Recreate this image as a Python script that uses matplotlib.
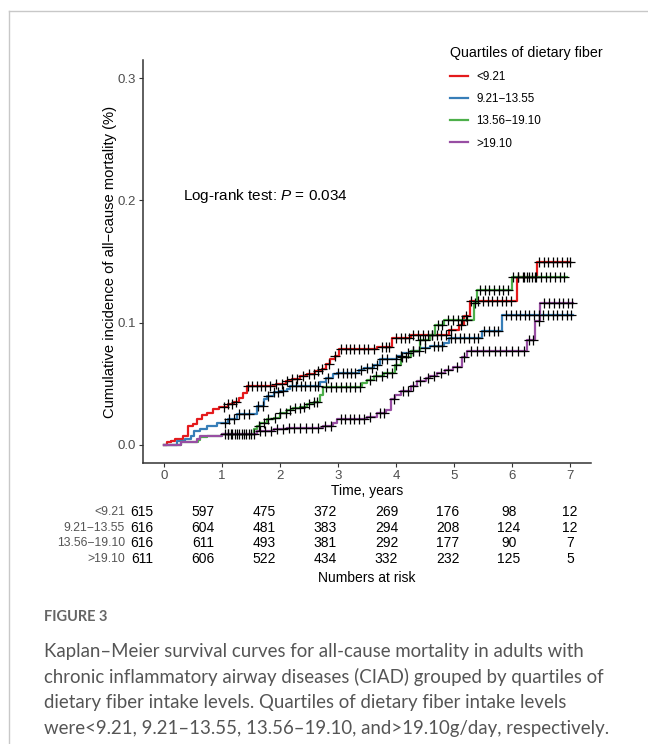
import matplotlib
matplotlib.use("Agg")
import numpy as np
import matplotlib.pyplot as plt
from matplotlib.lines import Line2D
from matplotlib.transforms import blended_transform_factory

plt.rcParams['font.family'] = ['Liberation Sans', 'DejaVu Sans']
plt.rcParams['mathtext.fontset'] = 'custom'
plt.rcParams['mathtext.rm'] = 'Liberation Sans'
plt.rcParams['mathtext.it'] = 'Liberation Sans:italic'

groups = ['<9.21', '9.21\u221213.55', '13.56\u221219.10', '>19.10']
colors = ['#E41A1C', '#377EB8', '#4DAF4A', '#984EA3']

# step times and cumulative incidence per group
red_t = [0, 0.06, 0.12, 0.2, 0.33, 0.41, 0.5, 0.57, 0.66, 0.75, 0.85, 0.95, 1.1, 1.2, 1.3, 1.37,
         1.43, 1.93, 2.1, 2.2, 2.35, 2.47, 2.6, 2.72, 2.8, 2.87, 2.95, 3.02, 3.68, 3.93, 4.25,
         4.91, 5.08, 5.17, 5.28, 6.08, 6.43]
red_y = [0, 0.002, 0.003, 0.005, 0.007, 0.015, 0.017, 0.021, 0.024, 0.026, 0.029, 0.031, 0.033,
         0.035, 0.038, 0.042, 0.048, 0.050, 0.052, 0.054, 0.056, 0.058, 0.060, 0.062, 0.066,
         0.070, 0.073, 0.078, 0.080, 0.087, 0.090, 0.094, 0.098, 0.105, 0.1175, 0.137, 0.150]
red_end = 7.0

blue_t = [0, 0.23, 0.37, 0.46, 0.52, 0.63, 0.74, 0.92, 1.1, 1.26, 1.6, 1.72, 1.77, 1.89, 2.0,
          2.12, 2.17, 2.69, 2.8, 2.92, 2.99, 3.36, 3.45, 3.62, 3.73, 4.02, 4.11, 4.25, 4.42,
          4.59, 4.82, 4.91, 5.48, 5.83]
blue_y = [0, 0.0027, 0.0046, 0.0074, 0.0114, 0.0128, 0.0155, 0.018, 0.021, 0.025, 0.032, 0.037,
          0.040, 0.043, 0.044, 0.046, 0.048, 0.051, 0.055, 0.058, 0.059, 0.0615, 0.063, 0.0656,
          0.070, 0.073, 0.075, 0.0765, 0.079, 0.0806, 0.083, 0.0874, 0.093, 0.106]
blue_end = 7.05

green_t = [0, 0.3, 0.58, 0.63, 0.74, 1.0, 1.55, 1.6, 1.66, 1.77, 1.89, 2.0, 2.12, 2.23, 2.35,
           2.46, 2.58, 2.69, 2.75, 3.42, 3.5, 3.62, 3.79, 3.99, 4.08, 4.25, 4.42, 4.59, 4.68,
           4.82, 5.34, 5.4, 6.0]
green_y = [0, 0.002, 0.004, 0.006, 0.0074, 0.0087, 0.0128, 0.0155, 0.018, 0.021, 0.022, 0.026,
           0.028, 0.030, 0.031, 0.033, 0.035, 0.041, 0.047, 0.0505, 0.053, 0.056, 0.059, 0.0656,
           0.072, 0.0765, 0.086, 0.090, 0.098, 0.102, 0.116, 0.127, 0.137]
green_end = 6.94

purple_t = [0, 0.29, 0.57, 0.63, 1.0, 1.6, 1.89, 2.12, 2.75, 2.92, 2.98, 3.5, 3.68, 3.82, 3.91,
            3.99, 4.08, 4.25, 4.36, 4.51, 4.59, 4.71, 4.85, 4.99, 5.14, 5.22, 6.25, 6.4, 6.48]
purple_y = [0, 0.002, 0.0046, 0.0074, 0.0087, 0.0114, 0.0128, 0.014, 0.0155, 0.018, 0.021, 0.023,
            0.026, 0.0287, 0.037, 0.041, 0.0437, 0.048, 0.052, 0.0546, 0.0566, 0.0587, 0.061,
            0.064, 0.072, 0.0765, 0.086, 0.101, 0.116]
purple_end = 7.05

# censoring times
red_cens = [1.03, 1.1, 1.18, 1.24, 1.45, 1.52, 1.6, 1.67, 1.74, 1.82, 1.93, 2.03, 2.12, 2.2, 2.3,
            2.4, 2.5, 2.58, 2.66, 2.73, 2.85, 2.95, 3.05, 3.13, 3.2, 3.28, 3.36, 3.44, 3.52, 3.62,
            3.75, 3.82, 3.88, 4.0, 4.08, 4.15, 4.22, 4.3, 4.38, 4.46, 4.55, 4.62, 4.7, 4.78, 4.86,
            4.95, 5.12, 5.2, 5.3, 5.42, 5.5, 5.58, 5.66, 5.74, 5.82, 5.9, 5.98, 6.1, 6.2, 6.3,
            6.4, 6.47, 6.55, 6.62, 6.7, 6.78, 6.86, 6.94, 7.0]
blue_cens = [1.05, 1.12, 1.2, 1.3, 1.38, 1.46, 1.62, 1.7, 1.8, 1.9, 1.97, 2.05, 2.2, 2.28, 2.36,
             2.44, 2.52, 2.6, 2.66, 2.83, 3.0, 3.08, 3.15, 3.22, 3.3, 3.4, 3.5, 3.58, 3.68, 3.76,
             3.84, 4.0, 4.08, 4.2, 4.3, 4.4, 4.5, 4.65, 4.72, 4.8, 4.95, 5.02, 5.1, 5.18, 5.26,
             5.34, 5.42, 5.52, 5.6, 5.68, 5.76, 5.9, 5.98, 6.06, 6.14, 6.22, 6.3, 6.38, 6.46,
             6.54, 6.62, 6.7, 6.78, 6.86, 6.94, 7.02]
green_cens = [1.1, 1.18, 1.26, 1.34, 1.42, 1.5, 1.64, 1.72, 1.8, 1.92, 2.0, 2.1, 2.18, 2.26, 2.34,
              2.42, 2.5, 2.58, 2.64, 2.8, 2.88, 2.96, 3.05, 3.13, 3.21, 3.3, 3.38, 3.55, 3.65,
              3.75, 3.85, 3.93, 4.0, 4.1, 4.18, 4.3, 4.42, 4.5, 4.62, 4.72, 4.8, 4.9, 4.98, 5.06,
              5.14, 5.22, 5.36, 5.45, 5.53, 5.61, 5.69, 5.77, 5.85, 5.93, 6.02, 6.1, 6.18, 6.26,
              6.34, 6.42, 6.5, 6.58, 6.66, 6.74, 6.82, 6.9]
purple_cens = [1.05, 1.1, 1.16, 1.22, 1.3, 1.38, 1.46, 1.55, 1.65, 1.75, 1.85, 1.95, 2.05, 2.15,
               2.25, 2.35, 2.45, 2.55, 2.65, 2.78, 2.88, 3.05, 3.12, 3.2, 3.28, 3.36, 3.44, 3.55,
               3.72, 3.8, 3.96, 4.12, 4.2, 4.3, 4.42, 4.55, 4.65, 4.78, 4.9, 5.05, 5.18, 5.3, 5.4,
               5.5, 5.6, 5.7, 5.8, 5.9, 6.0, 6.1, 6.2, 6.3, 6.36, 6.46, 6.55, 6.63, 6.72, 6.8,
               6.88, 6.96, 7.04]

risk_times = [0, 1, 2, 3, 4, 5, 6, 7]
risk_red = [615, 597, 475, 372, 269, 176, 98, 12]
risk_blue = [616, 604, 481, 383, 294, 208, 124, 12]
risk_green = [616, 611, 493, 381, 292, 177, 90, 7]
risk_purple = [611, 606, 522, 434, 332, 232, 125, 5]

curves = [(red_t, red_y, red_end, red_cens), (blue_t, blue_y, blue_end, blue_cens),
          (green_t, green_y, green_end, green_cens), (purple_t, purple_y, purple_end, purple_cens)]
risk = [risk_red, risk_blue, risk_green, risk_purple]

W, H = 648, 744
fig = plt.figure(figsize=(W / 100, H / 100), dpi=100)

def fx(px):
    return px / W

def fy(py):
    return 1 - py / H

ax = fig.add_axes([fx(143), fy(463), fx(591) - fx(143), fy(60) - fy(463)])

handles = []
for (t, y, end, cens), col, lab in zip(curves, colors, groups):
    tt = np.append(t, end)
    yy = np.append(y, y[-1])
    ax.step(tt, yy, where='post', color=col, lw=1.6, zorder=2)
    idx = np.searchsorted(t, cens, side='right') - 1
    cy = np.array(y)[idx]
    ax.plot(cens, cy, ls='none', marker='+', color='black', ms=6.5, mew=0.9, zorder=3)
    handles.append(Line2D([0], [0], color=col, lw=1.6))

ax.set_xlim(-0.36, 7.36)
ax.set_ylim(-0.015, 0.315)
ax.set_xticks(range(8))
ax.set_yticks([0.0, 0.1, 0.2, 0.3])
ax.set_yticklabels(['0.0', '0.1', '0.2', '0.3'])
for s in ['top', 'right']:
    ax.spines[s].set_visible(False)
for s in ['left', 'bottom']:
    ax.spines[s].set_color('#333333')
    ax.spines[s].set_linewidth(1.1)
ax.tick_params(colors='#333333', labelcolor='#4d4d4d', labelsize=9.5, length=3, width=0.8,
               pad=2)
ax.set_xlabel('Time, years', fontsize=10)
ax.set_ylabel('Cumulative incidence of all\u2212cause mortality (%)', fontsize=10.6)
ax.xaxis.set_label_coords((367 - 143) / 448, -(484 - 463) / 403)
ax.yaxis.set_label_coords((117 - 143) / 448, 0.5)

ax.text(fx(183), fy(196), 'Log-rank test: $P$ = 0.034', transform=fig.transFigure,
        fontsize=11, va='center', ha='left')

leg = fig.legend(handles, groups, loc='upper left', bbox_to_anchor=(fx(450), fy(46)),
                 frameon=False, title='Quartiles of dietary fiber', fontsize=8.4,
                 title_fontsize=10.3, alignment='left', handlelength=1.5, handletextpad=0.75,
                 labelspacing=0.87, borderpad=0, borderaxespad=0)
leg._legend_box.sep = 8

# numbers at risk table
rx0, rx1 = 142, 570
ppy = (rx1 - rx0) / 7
ax2 = fig.add_axes([fx(rx0 - 0.35 * ppy), fy(567), fx(7.7 * ppy), fy(504) - fy(567)])
ax2.set_xlim(-0.35, 7.35)
ax2.set_ylim(3.5, -0.5)
ax2.axis('off')
tr = blended_transform_factory(fig.transFigure, ax2.transData)
for i, (lab, row) in enumerate(zip(groups, risk)):
    ax2.text(fx(125), i, lab, transform=tr, ha='right', va='center', fontsize=8.8,
             color='#555555')
    for tm, n in zip(risk_times, row):
        ax2.text(tm, i, str(n), ha='center', va='center', fontsize=10)
fig.text(fx(367), fy(578), 'Numbers at risk', ha='center', va='center', fontsize=10)

# frame and caption
fig.add_artist(Line2D([fx(9), 1], [fy(11), fy(11)], color='#c8c8c8', lw=1,
                      transform=fig.transFigure))
fig.add_artist(Line2D([fx(9), fx(9)], [fy(11), 0], color='#c8c8c8', lw=1,
                      transform=fig.transFigure))
fig.text(fx(44), fy(617), 'FIGURE 3', fontsize=10.5, color='#666666', fontweight='bold',
         family='Lato', va='center', ha='left')
caption = ['Kaplan\u2013Meier survival curves for all-cause mortality in adults with',
           'chronic inflammatory airway diseases (CIAD) grouped by quartiles of',
           'dietary fiber intake levels. Quartiles of dietary fiber intake levels',
           'were<9.21, 9.21\u201313.55, 13.56\u201319.10, and>19.10g/day, respectively.']
for k, line in enumerate(caption):
    fig.text(fx(44), fy(651 + 25.7 * k), line, fontsize=13.4, color='#555555', family='Lato',
             va='center', ha='left')

fig.savefig('out.png', dpi=100)
